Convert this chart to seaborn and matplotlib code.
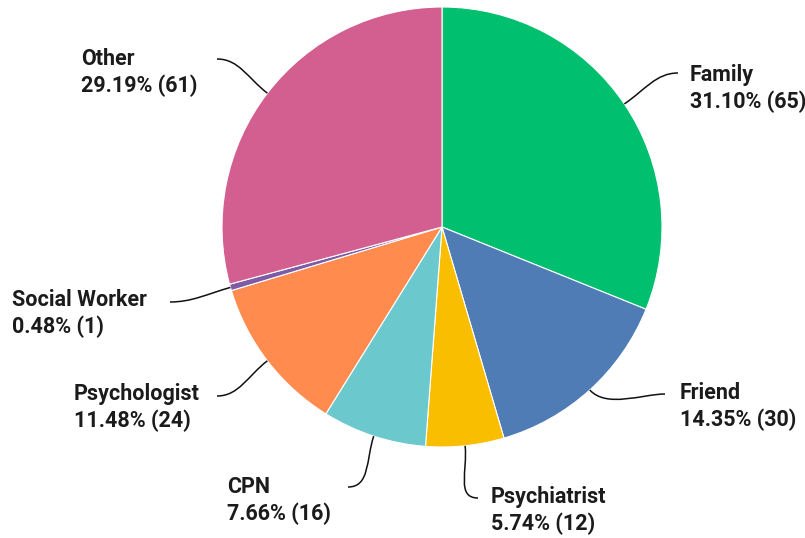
import numpy as np
import matplotlib.pyplot as plt
import seaborn as sns
from matplotlib.path import Path
from matplotlib.patches import PathPatch

# dados
categories = ["Family", "Friend", "Psychiatrist", "CPN", "Psychologist", "Social Worker", "Other"]
counts = [65, 30, 12, 16, 24, 1, 61]
hex_colors = ["#00BF6F", "#507CB6", "#F9BE00", "#6BC8CD", "#FF8B4F", "#7D5BA6", "#D25F90"]

# posicao dos rotulos em pixels: (x do texto, baseline linha 1, fim da linha x, fim da linha y)
label_pos = {
    "Family": (690, 81, 678, 73),
    "Friend": (680, 399, 665, 394),
    "Psychiatrist": (491, 503, 478, 498),
    "CPN": (227, 493, 348, 487),
    "Psychologist": (74, 400, 217, 396),
    "Social Worker": (12, 306, 170, 302),
    "Other": (81, 65, 217, 59),
}

sns.set_theme(style="white")
plt.rcParams['font.family'] = ['Roboto', 'DejaVu Sans']

cx, cy, r = 442, 227, 220
palette = sns.color_palette(hex_colors)

fig = plt.figure(figsize=(8.05, 5.38), dpi=100)
ax = fig.add_axes([0, 0, 1, 1])
wedges, _ = ax.pie(counts, colors=palette, startangle=-90, counterclock=True,
                   center=(cx, cy), radius=r,
                   wedgeprops=dict(edgecolor="white", linewidth=0.8))
ax.set_xlim(0, 805)
ax.set_ylim(538, 0)
ax.set_aspect("equal")
ax.axis("off")

total = sum(counts)
for w, name, n in zip(wedges, categories, counts):
    tx, base, ex, ey = label_pos[name]
    mid = np.deg2rad((w.theta1 + w.theta2) / 2)
    dx, dy = np.cos(mid), np.sin(mid)
    sx, sy = cx + r * dx, cy + r * dy
    side = 1 if ex > sx else -1
    verts = [(sx, sy), (sx + dx * 25, sy + dy * 25), (ex - side * 22, ey), (ex, ey)]
    path = Path(verts, [Path.MOVETO, Path.CURVE4, Path.CURVE4, Path.CURVE4])
    ax.add_patch(PathPatch(path, fill=False, edgecolor="#111111", linewidth=1.1))
    ax.text(tx, base, name, ha="left", va="baseline", fontsize=15.5,
            fontweight="bold", color="#1b1b1b")
    ax.text(tx, base + 27, f"{n / total * 100:.2f}% ({n})", ha="left", va="baseline",
            fontsize=15.5, fontweight="bold", color="#1b1b1b")

fig.savefig("out.png", dpi=100)
